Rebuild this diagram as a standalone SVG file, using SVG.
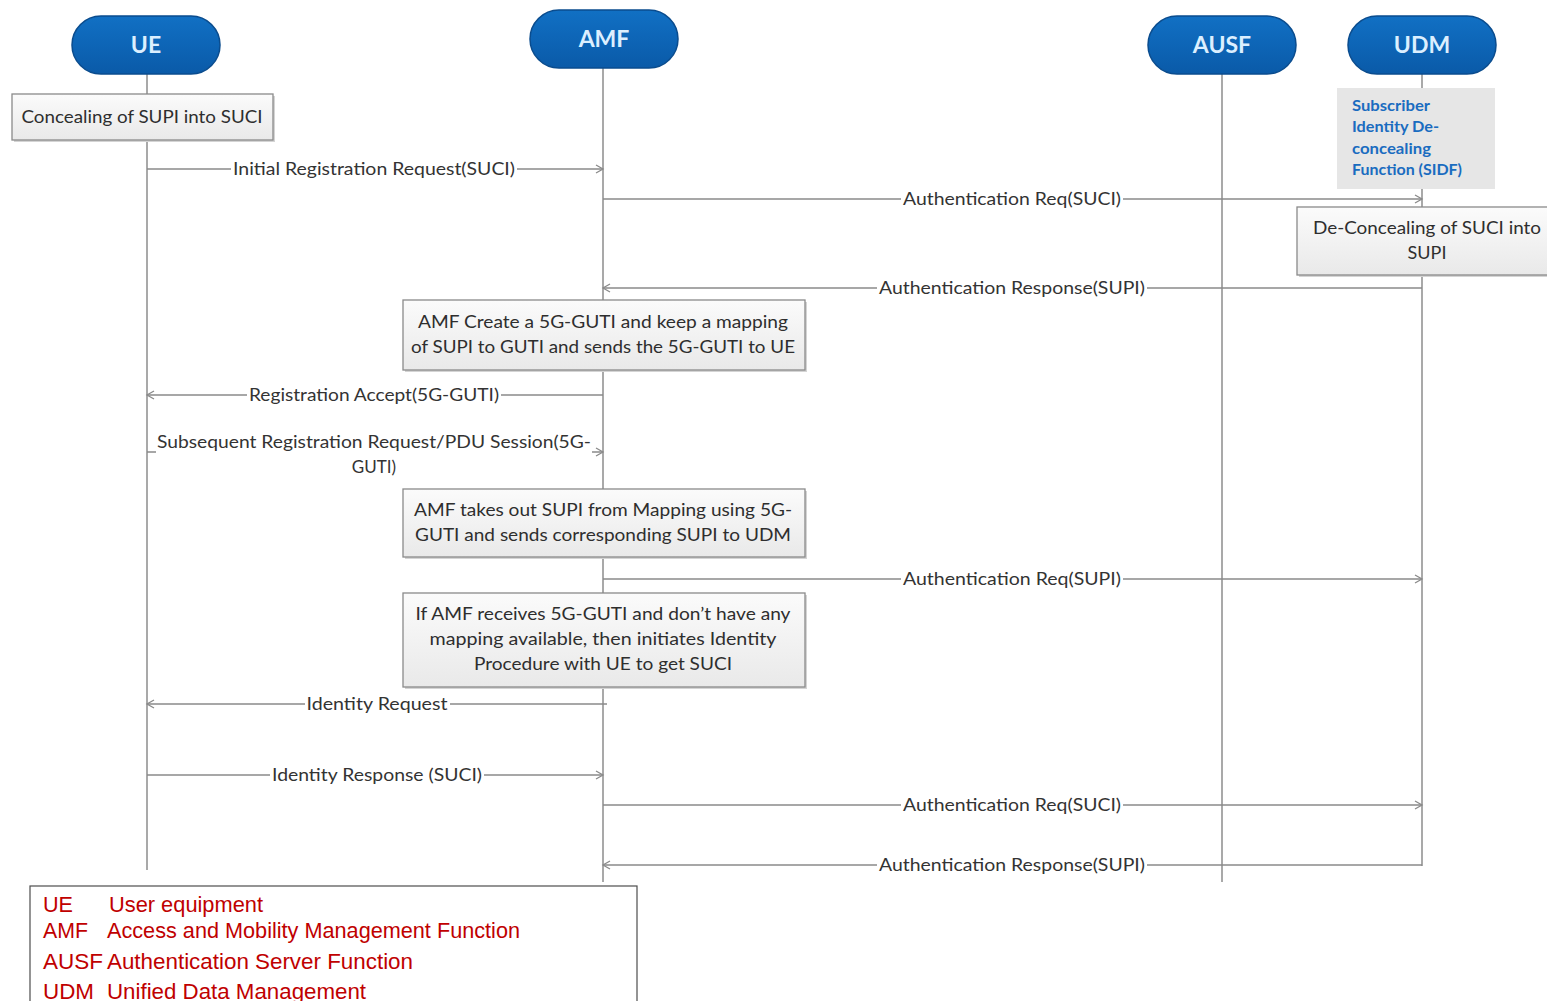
<svg xmlns="http://www.w3.org/2000/svg" width="1547" height="1001" viewBox="0 0 1547 1001">
  <style>
    .life { stroke: #8c8c8c; stroke-width: 1.5; fill: none; }
    .msgline { stroke: #8a8a8a; stroke-width: 1.5; fill: none; }
    .arrow { marker-end: url(#open); }
    .msg { font-family: Lato, "Open Sans", "Liberation Sans", sans-serif; font-size: 17px; fill: #333333; text-anchor: middle; }
    .boxtxt { font-family: Lato, "Open Sans", "Liberation Sans", sans-serif; font-size: 18px; fill: #2e2e2e; text-anchor: middle; }
    .box { fill: url(#boxfill); stroke: #8a8a8a; stroke-width: 1.3; }
    .shadow { fill: #d4d4d4; }
    .pill { fill: url(#pillfill); stroke: #0a4c8e; stroke-width: 1.5; }
    .pilltxt { font-family: Lato, "Open Sans", "Liberation Sans", sans-serif; font-size: 23px; font-weight: 700; fill: #dcefff; text-anchor: middle; }
    .sidf { font-family: Lato, "Open Sans", "Liberation Sans", sans-serif; font-size: 16px; font-weight: 700; fill: #1a6cc0; }
    .legend { font-family: "Liberation Sans", Arial, sans-serif; font-size: 22px; fill: #c00000; }
  </style>
  <defs>
    <linearGradient id="boxfill" x1="0" y1="0" x2="0" y2="1">
      <stop offset="0" stop-color="#fbfbfb"/>
      <stop offset="1" stop-color="#e9e9e9"/>
    </linearGradient>
    <linearGradient id="pillfill" x1="0" y1="0" x2="0" y2="1">
      <stop offset="0" stop-color="#1170c4"/>
      <stop offset="1" stop-color="#0a5aa8"/>
    </linearGradient>
    <marker id="open" markerWidth="10" markerHeight="10" refX="8" refY="5" orient="auto" markerUnits="userSpaceOnUse">
      <path d="M1,1 L8,5 L1,9" fill="none" stroke="#8a8a8a" stroke-width="1.3"/>
    </marker>
  </defs>

  <rect width="1547" height="1001" fill="#ffffff"/>

  <!-- lifelines -->
  <g id="lifelines">
    <line class="life" x1="147" y1="74" x2="147" y2="870"/>
    <line class="life" x1="603" y1="68" x2="603" y2="882"/>
    <line class="life" x1="1222" y1="74" x2="1222" y2="882"/>
    <line class="life" x1="1422" y1="74" x2="1422" y2="866"/>
  </g>

  <!-- participants -->
  <g id="ue">
    <rect class="pill" x="72" y="16" width="148" height="58" rx="29"/>
    <text class="pilltxt" x="146" y="53">UE</text>
  </g>
  <g id="amf">
    <rect class="pill" x="530" y="10" width="148" height="58" rx="29"/>
    <text class="pilltxt" x="604" y="47">AMF</text>
  </g>
  <g id="ausf">
    <rect class="pill" x="1148" y="16" width="148" height="58" rx="29"/>
    <text class="pilltxt" x="1222" y="53">AUSF</text>
  </g>
  <g id="udm">
    <rect class="pill" x="1348" y="16" width="148" height="58" rx="29"/>
    <text class="pilltxt" x="1422" y="53">UDM</text>
  </g>

  <!-- note boxes -->
  <g id="concealing">
    <rect class="shadow" x="14" y="96" width="261" height="46"/>
    <rect class="box" x="12" y="94" width="261" height="46"/>
    <text class="boxtxt" x="142" y="123" textLength="241" lengthAdjust="spacingAndGlyphs">Concealing of SUPI into SUCI</text>
  </g>

  <g id="sidf">
    <rect x="1337" y="88" width="158" height="101" fill="#e6e6e6"/>
    <text class="sidf" x="1352" y="111" textLength="78" lengthAdjust="spacingAndGlyphs">Subscriber</text>
    <text class="sidf" x="1352" y="132" textLength="87" lengthAdjust="spacingAndGlyphs">Identity De-</text>
    <text class="sidf" x="1352" y="154" textLength="79" lengthAdjust="spacingAndGlyphs">concealing</text>
    <text class="sidf" x="1352" y="175" textLength="110" lengthAdjust="spacingAndGlyphs">Function (SIDF)</text>
  </g>

  <g id="deconcealing">
    <rect class="shadow" x="1299" y="209" width="260" height="68"/>
    <rect class="box" x="1297" y="207" width="260" height="68"/>
    <text class="boxtxt" x="1427" y="234" textLength="228" lengthAdjust="spacingAndGlyphs">De-Concealing of SUCI into</text>
    <text class="boxtxt" x="1427" y="259">SUPI</text>
  </g>

  <g id="guti-create">
    <rect class="shadow" x="405" y="302" width="402" height="70"/>
    <rect class="box" x="403" y="300" width="402" height="70"/>
    <text class="boxtxt" x="603" y="328" textLength="370" lengthAdjust="spacingAndGlyphs">AMF Create a 5G-GUTI and keep a mapping</text>
    <text class="boxtxt" x="603" y="353" textLength="384" lengthAdjust="spacingAndGlyphs">of SUPI to GUTI and sends the 5G-GUTI to UE</text>
  </g>

  <g id="supi-lookup">
    <rect class="shadow" x="405" y="491" width="402" height="68"/>
    <rect class="box" x="403" y="489" width="402" height="68"/>
    <text class="boxtxt" x="603" y="516" textLength="378" lengthAdjust="spacingAndGlyphs">AMF takes out SUPI from Mapping using 5G-</text>
    <text class="boxtxt" x="603" y="541" textLength="376" lengthAdjust="spacingAndGlyphs">GUTI and sends corresponding SUPI to UDM</text>
  </g>

  <g id="no-mapping">
    <rect class="shadow" x="405" y="595" width="402" height="94"/>
    <rect class="box" x="403" y="593" width="402" height="94"/>
    <text class="boxtxt" x="603" y="620" textLength="375" lengthAdjust="spacingAndGlyphs">If AMF receives 5G-GUTI and don’t have any</text>
    <text class="boxtxt" x="603" y="645" textLength="347" lengthAdjust="spacingAndGlyphs">mapping available, then initiates Identity</text>
    <text class="boxtxt" x="603" y="670" textLength="258" lengthAdjust="spacingAndGlyphs">Procedure with UE to get SUCI</text>
  </g>

  <!-- messages -->
  <g id="connectors">
    <!-- Initial Registration Request(SUCI) -->
    <line class="msgline" x1="147" y1="169" x2="231" y2="169"/>
    <line class="msgline arrow" x1="517" y1="169" x2="603" y2="169"/>
    <text class="msg" x="374" y="175" textLength="282" lengthAdjust="spacingAndGlyphs">Initial Registration Request(SUCI)</text>

    <!-- Authentication Req(SUCI) -->
    <line class="msgline" x1="603" y1="199" x2="901" y2="199"/>
    <line class="msgline arrow" x1="1123" y1="199" x2="1422" y2="199"/>
    <text class="msg" x="1012" y="205" textLength="218" lengthAdjust="spacingAndGlyphs">Authentication Req(SUCI)</text>

    <!-- Authentication Response(SUPI) -->
    <line class="msgline" x1="1422" y1="288" x2="1147" y2="288"/>
    <line class="msgline arrow" x1="877" y1="288" x2="603" y2="288"/>
    <text class="msg" x="1012" y="294" textLength="266" lengthAdjust="spacingAndGlyphs">Authentication Response(SUPI)</text>

    <!-- Registration Accept(5G-GUTI) -->
    <line class="msgline" x1="603" y1="395" x2="501" y2="395"/>
    <line class="msgline arrow" x1="247" y1="395" x2="147" y2="395"/>
    <text class="msg" x="374" y="401" textLength="250" lengthAdjust="spacingAndGlyphs">Registration Accept(5G-GUTI)</text>

    <!-- Subsequent Registration Request/PDU Session(5G-GUTI) -->
    <line class="msgline" x1="147" y1="452" x2="156" y2="452"/>
    <line class="msgline arrow" x1="592" y1="452" x2="603" y2="452"/>
    <text class="msg" x="374" y="448" textLength="434" lengthAdjust="spacingAndGlyphs">Subsequent Registration Request/PDU Session(5G-</text>
    <text class="msg" x="374" y="473">GUTI)</text>

    <!-- Authentication Req(SUPI) -->
    <line class="msgline" x1="603" y1="579" x2="901" y2="579"/>
    <line class="msgline arrow" x1="1123" y1="579" x2="1422" y2="579"/>
    <text class="msg" x="1012" y="585" textLength="218" lengthAdjust="spacingAndGlyphs">Authentication Req(SUPI)</text>

    <!-- Identity Request -->
    <line class="msgline" x1="607" y1="704" x2="450" y2="704"/>
    <line class="msgline arrow" x1="305" y1="704" x2="147" y2="704"/>
    <text class="msg" x="377" y="710" textLength="141" lengthAdjust="spacingAndGlyphs">Identity Request</text>

    <!-- Identity Response (SUCI) -->
    <line class="msgline" x1="147" y1="775" x2="270" y2="775"/>
    <line class="msgline arrow" x1="484" y1="775" x2="603" y2="775"/>
    <text class="msg" x="377" y="781" textLength="210" lengthAdjust="spacingAndGlyphs">Identity Response (SUCI)</text>

    <!-- Authentication Req(SUCI) -->
    <line class="msgline" x1="603" y1="805" x2="901" y2="805"/>
    <line class="msgline arrow" x1="1123" y1="805" x2="1422" y2="805"/>
    <text class="msg" x="1012" y="811" textLength="218" lengthAdjust="spacingAndGlyphs">Authentication Req(SUCI)</text>

    <!-- Authentication Response(SUPI) -->
    <line class="msgline" x1="1422" y1="865" x2="1147" y2="865"/>
    <line class="msgline arrow" x1="877" y1="865" x2="603" y2="865"/>
    <text class="msg" x="1012" y="871" textLength="266" lengthAdjust="spacingAndGlyphs">Authentication Response(SUPI)</text>
  </g>

  <!-- abbreviation legend -->
  <g id="legend">
    <rect x="30" y="886" width="607" height="130" fill="#ffffff" stroke="#4d4d4d" stroke-width="1.2"/>
    <text class="legend" x="43" y="912" textLength="30" lengthAdjust="spacingAndGlyphs">UE</text>
    <text class="legend" x="109" y="912" textLength="154" lengthAdjust="spacingAndGlyphs">User equipment</text>
    <text class="legend" x="43" y="938" textLength="45" lengthAdjust="spacingAndGlyphs">AMF</text>
    <text class="legend" x="107" y="938" textLength="413" lengthAdjust="spacingAndGlyphs">Access and Mobility Management Function</text>
    <text class="legend" x="43" y="969" textLength="60" lengthAdjust="spacingAndGlyphs">AUSF</text>
    <text class="legend" x="107" y="969" textLength="306" lengthAdjust="spacingAndGlyphs">Authentication Server Function</text>
    <text class="legend" x="43" y="999" textLength="51" lengthAdjust="spacingAndGlyphs">UDM</text>
    <text class="legend" x="107" y="999" textLength="259" lengthAdjust="spacingAndGlyphs">Unified Data Management</text>
  </g>
</svg>
